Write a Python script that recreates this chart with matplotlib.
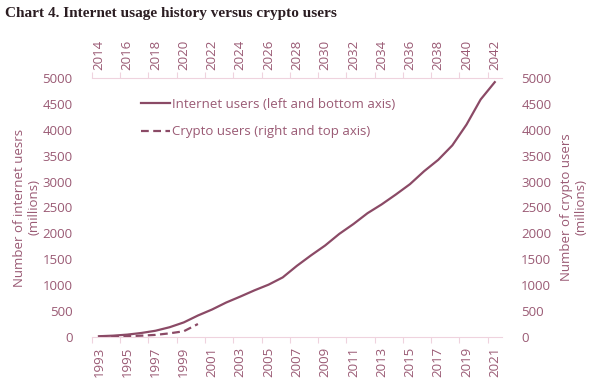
import numpy as np
import matplotlib
matplotlib.use('Agg')
import matplotlib.pyplot as plt
from matplotlib.ticker import FixedLocator

# internet users, millions (left and bottom axis)
net_years = list(range(1993, 2022))
net_users = [14, 25, 45, 77, 120, 188, 281, 414, 530, 665, 780, 900, 1010, 1150,
             1373, 1575, 1766, 1990, 2180, 2390, 2560, 2750, 2950, 3200, 3420,
             3700, 4100, 4585, 4920]

# crypto users, millions (right and top axis)
crypto_years = list(range(2014, 2022))
crypto_users = [5, 8, 15, 25, 40, 70, 110, 250]

top_years = list(range(2014, 2043))

line_col = '#8b4a66'
text_col = '#9a5a74'
axis_col = '#efd3de'

plt.rcParams['font.family'] = ['Open Sans', 'DejaVu Sans']

fig = plt.figure(figsize=(5.89, 3.90), dpi=100)
pos = [0.156, 0.136, 0.696, 0.664]
ax = fig.add_axes(pos)
ax2 = fig.add_axes(pos)
ax2.patch.set_visible(False)

'''
internet users
'''
l1, = ax.plot(net_years, net_users, color=line_col, lw=1.6, label='Internet users (left and bottom axis)')
ax.set_xlim(1992.5, 2021.5)
ax.set_ylim(0, 5000)
ax.set_yticks(np.arange(0, 5001, 500))
ax.xaxis.set_major_locator(FixedLocator(np.arange(1992.5, 2022, 2)))
ax.xaxis.set_minor_locator(FixedLocator(net_years[::2]))
ax.xaxis.set_major_formatter(plt.NullFormatter())
ax.set_xticklabels([str(y) for y in net_years[::2]], minor=True, rotation=90)
ax.tick_params(axis='x', which='major', length=4, color=axis_col, width=0.8)
ax.tick_params(axis='x', which='minor', length=0, pad=7, labelsize=9.5, labelcolor=text_col)
ax.tick_params(axis='y', length=0, pad=14, labelsize=9.5, labelcolor=text_col)
for s in ['left', 'right', 'top']:
    ax.spines[s].set_visible(False)
ax.spines['bottom'].set_color(axis_col)
ax.set_ylabel('Number of internet uesrs\n(millions)', color=text_col, fontsize=9.5, labelpad=1, linespacing=1.15)

'''
crypto users
'''
l2, = ax2.plot(crypto_years, crypto_users, color=line_col, lw=1.6, ls=(0, (3.5, 2)), label='Crypto users (right and top axis)')
ax2.set_xlim(2013.5, 2042.5)
ax2.set_ylim(0, 5000)
ax2.xaxis.tick_top()
ax2.yaxis.tick_right()
ax2.yaxis.set_label_position('right')
ax2.set_yticks(np.arange(0, 5001, 500))
ax2.xaxis.set_major_locator(FixedLocator(np.arange(2013.5, 2043, 2)))
ax2.xaxis.set_minor_locator(FixedLocator(top_years[::2]))
ax2.xaxis.set_major_formatter(plt.NullFormatter())
ax2.set_xticklabels([str(y) for y in top_years[::2]], minor=True, rotation=90)
ax2.tick_params(axis='x', which='major', top=True, length=4, color=axis_col, width=0.8)
ax2.tick_params(axis='x', which='minor', top=True, length=0, pad=6, labelsize=9.5, labelcolor=text_col)
ax2.tick_params(axis='y', length=0, pad=14, labelsize=9.5, labelcolor=text_col)
for s in ['left', 'right', 'bottom']:
    ax2.spines[s].set_visible(False)
ax2.spines['top'].set_color(axis_col)
ax2.set_ylabel('Number of crypto users\n(millions)', color=text_col, fontsize=9.5, labelpad=6, linespacing=1.15)

leg = ax2.legend(handles=[l1, l2], loc='upper left', bbox_to_anchor=(0.09, 0.97), frameon=False,
                 fontsize=9.5, handlelength=2.2, handletextpad=0.2, labelspacing=1.1)
for t in leg.get_texts():
    t.set_color(text_col)

fig.text(0.008, 0.965, 'Chart 4. Internet usage history versus crypto users', fontsize=11,
         fontweight='bold', family='Liberation Serif', color='#2b1d22', va='center', ha='left')

fig.savefig('out.png', dpi=100)
